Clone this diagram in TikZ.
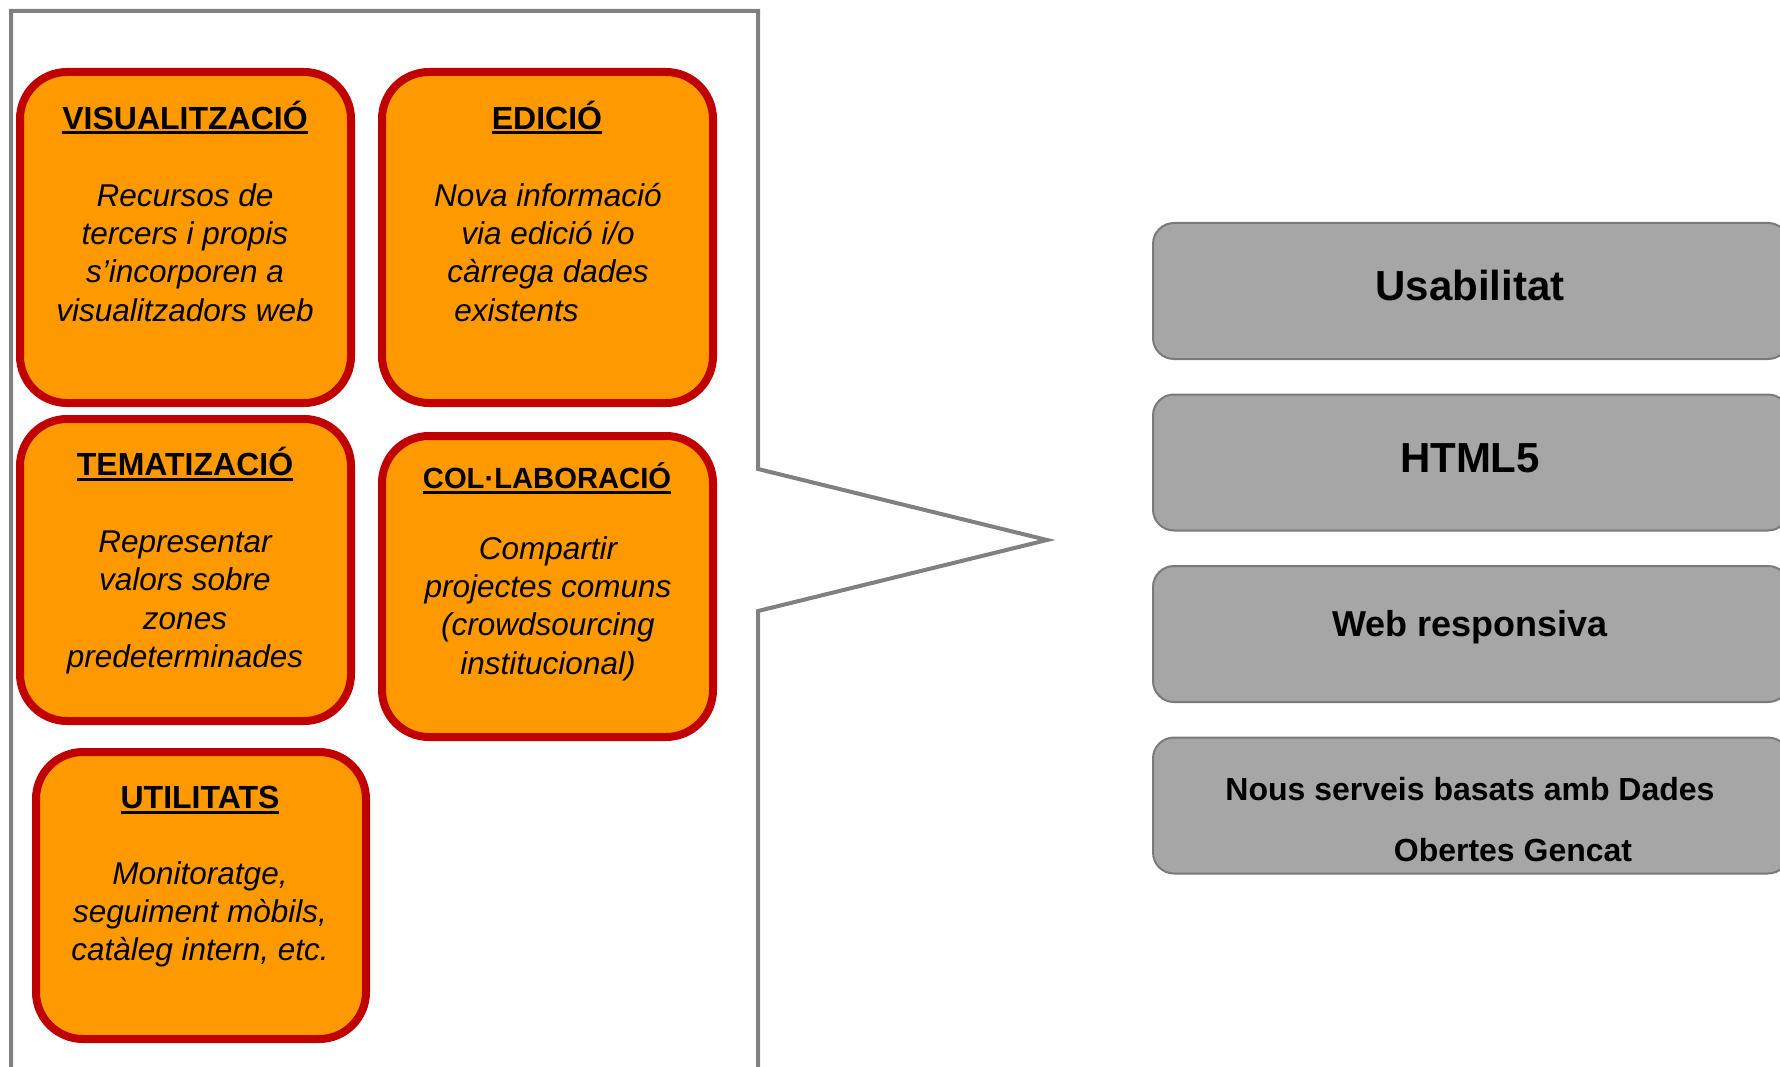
\documentclass[tikz,border=0pt]{standalone}
\usepackage{fontspec}
\setmainfont{Liberation Sans}
\definecolor{boxorange}{HTML}{FF9900}
\definecolor{boxred}{HTML}{C00000}
\definecolor{frameg}{HTML}{808080}
\definecolor{grayfill}{HTML}{A6A6A6}
\definecolor{grayedge}{HTML}{7A7A7A}
\newcommand{\titleul}[1]{\setbox0\hbox{#1}\rlap{\rule[-5pt]{\wd0}{3pt}}\box0}
\newcommand{\firststrut}{\rule{0pt}{0.9em}}
\tikzset{
  orangebox/.style={draw=boxred, line width=8pt, fill=boxorange, rounded corners=47pt, minimum width=331pt, inner sep=0pt},
  titletext/.style={font=\fontsize{32}{38}\selectfont\bfseries, inner sep=0pt, anchor=base},
  bodytext/.style={font=\fontsize{31.5}{38.3}\selectfont\itshape, align=center, inner sep=0pt, anchor=north},
  graybox/.style={draw=grayedge, line width=2pt, fill=grayfill, rounded corners=21pt, minimum width=636pt, minimum height=136pt, inner sep=0pt},
  graytext/.style={font=\bfseries, inner sep=0pt, anchor=base},
  frameline/.style={draw=frameg, line width=4pt, fill=white, line join=miter},
}
\begin{document}
\begin{tikzpicture}[x=1pt,y=-1pt]
\useasboundingbox (0,0) rectangle (1780,1067);
\fill[white] (0,0) rectangle (1780,1067);
% callout frame
\coordinate (fbl) at (11,1069);
\coordinate (ftl) at (11,11);
\coordinate (ftr) at (758,11);
\coordinate (fup) at (758,469);
\coordinate (ftip) at (1047,540);
\coordinate (flo) at (758,611);
\coordinate (fbr) at (758,1069);
\path[frameline] (fbl) -- (ftl) -- (ftr) -- (fup) -- (ftip) -- (flo) -- (fbr);
% orange boxes
\node[orangebox, minimum height=331pt] (v) at (185.5,237.5) {};
\node[orangebox, minimum height=331pt] (e) at (547.5,237.5) {};
\node[orangebox, minimum height=302pt] (t) at (185.5,570) {};
\node[orangebox, minimum height=301pt] (c) at (547.5,586.5) {};
\node[orangebox, minimum height=287pt, minimum width=330pt] (u) at (201,895.5) {};
% titles
\node[titletext] (vt) at (185,129.5) {\titleul{VISUALITZACIÓ}};
\node[titletext] (et) at (547,129.5) {\titleul{EDICIÓ}};
\node[titletext] (tt) at (185,475.5) {\titleul{TEMATIZACIÓ}};
\node[titletext, font=\fontsize{29.2}{35}\selectfont\bfseries] (ct) at (547,488.5) {\titleul{COL·LABORACIÓ}};
\node[titletext] (ut) at (200,808.5) {\titleul{UTILITATS}};
% bodies
\node[bodytext] (vb) at (185,177.6) {\firststrut Recursos de\\tercers i propis\\s’incorporen a\\visualitzadors web};
\node[bodytext] (eb) at (548,177.6) {\firststrut Nova informació\\via edició i/o\\càrrega dades\\existents\rule{63pt}{0pt}};
\node[bodytext] (tb) at (185,524.1) {\firststrut Representar\\valors sobre\\zones\\predeterminades};
\node[bodytext] (cb) at (548,530.6) {\firststrut Compartir\\projectes comuns\\(crowdsourcing\\institucional)};
\node[bodytext] (ub) at (200,855.6) {\firststrut Monitoratge,\\seguiment mòbils,\\catàleg intern, etc.};
% gray boxes
\node[graybox] (g1) at (1471,291) {};
\node[graybox] (g2) at (1471,462.5) {};
\node[graybox] (g3) at (1471,634) {};
\node[graybox] (g4) at (1471,805.5) {};
\node[graytext, font=\fontsize{42}{50}\selectfont\bfseries] (g1t) at (1470,301) {Usabilitat};
\node[graytext, font=\fontsize{42}{50}\selectfont\bfseries] (g2t) at (1470,472) {HTML5};
\node[graytext, font=\fontsize{36}{43}\selectfont\bfseries] (g3t) at (1470,636) {Web responsiva};
\node[graytext, font=\fontsize{32}{38}\selectfont\bfseries] (g4t) at (1470,800.5) {Nous serveis basats amb Dades};
\node[graytext, font=\fontsize{32}{38}\selectfont\bfseries] (g4u) at (1513,861.5) {Obertes Gencat};
\end{tikzpicture}
\end{document}
